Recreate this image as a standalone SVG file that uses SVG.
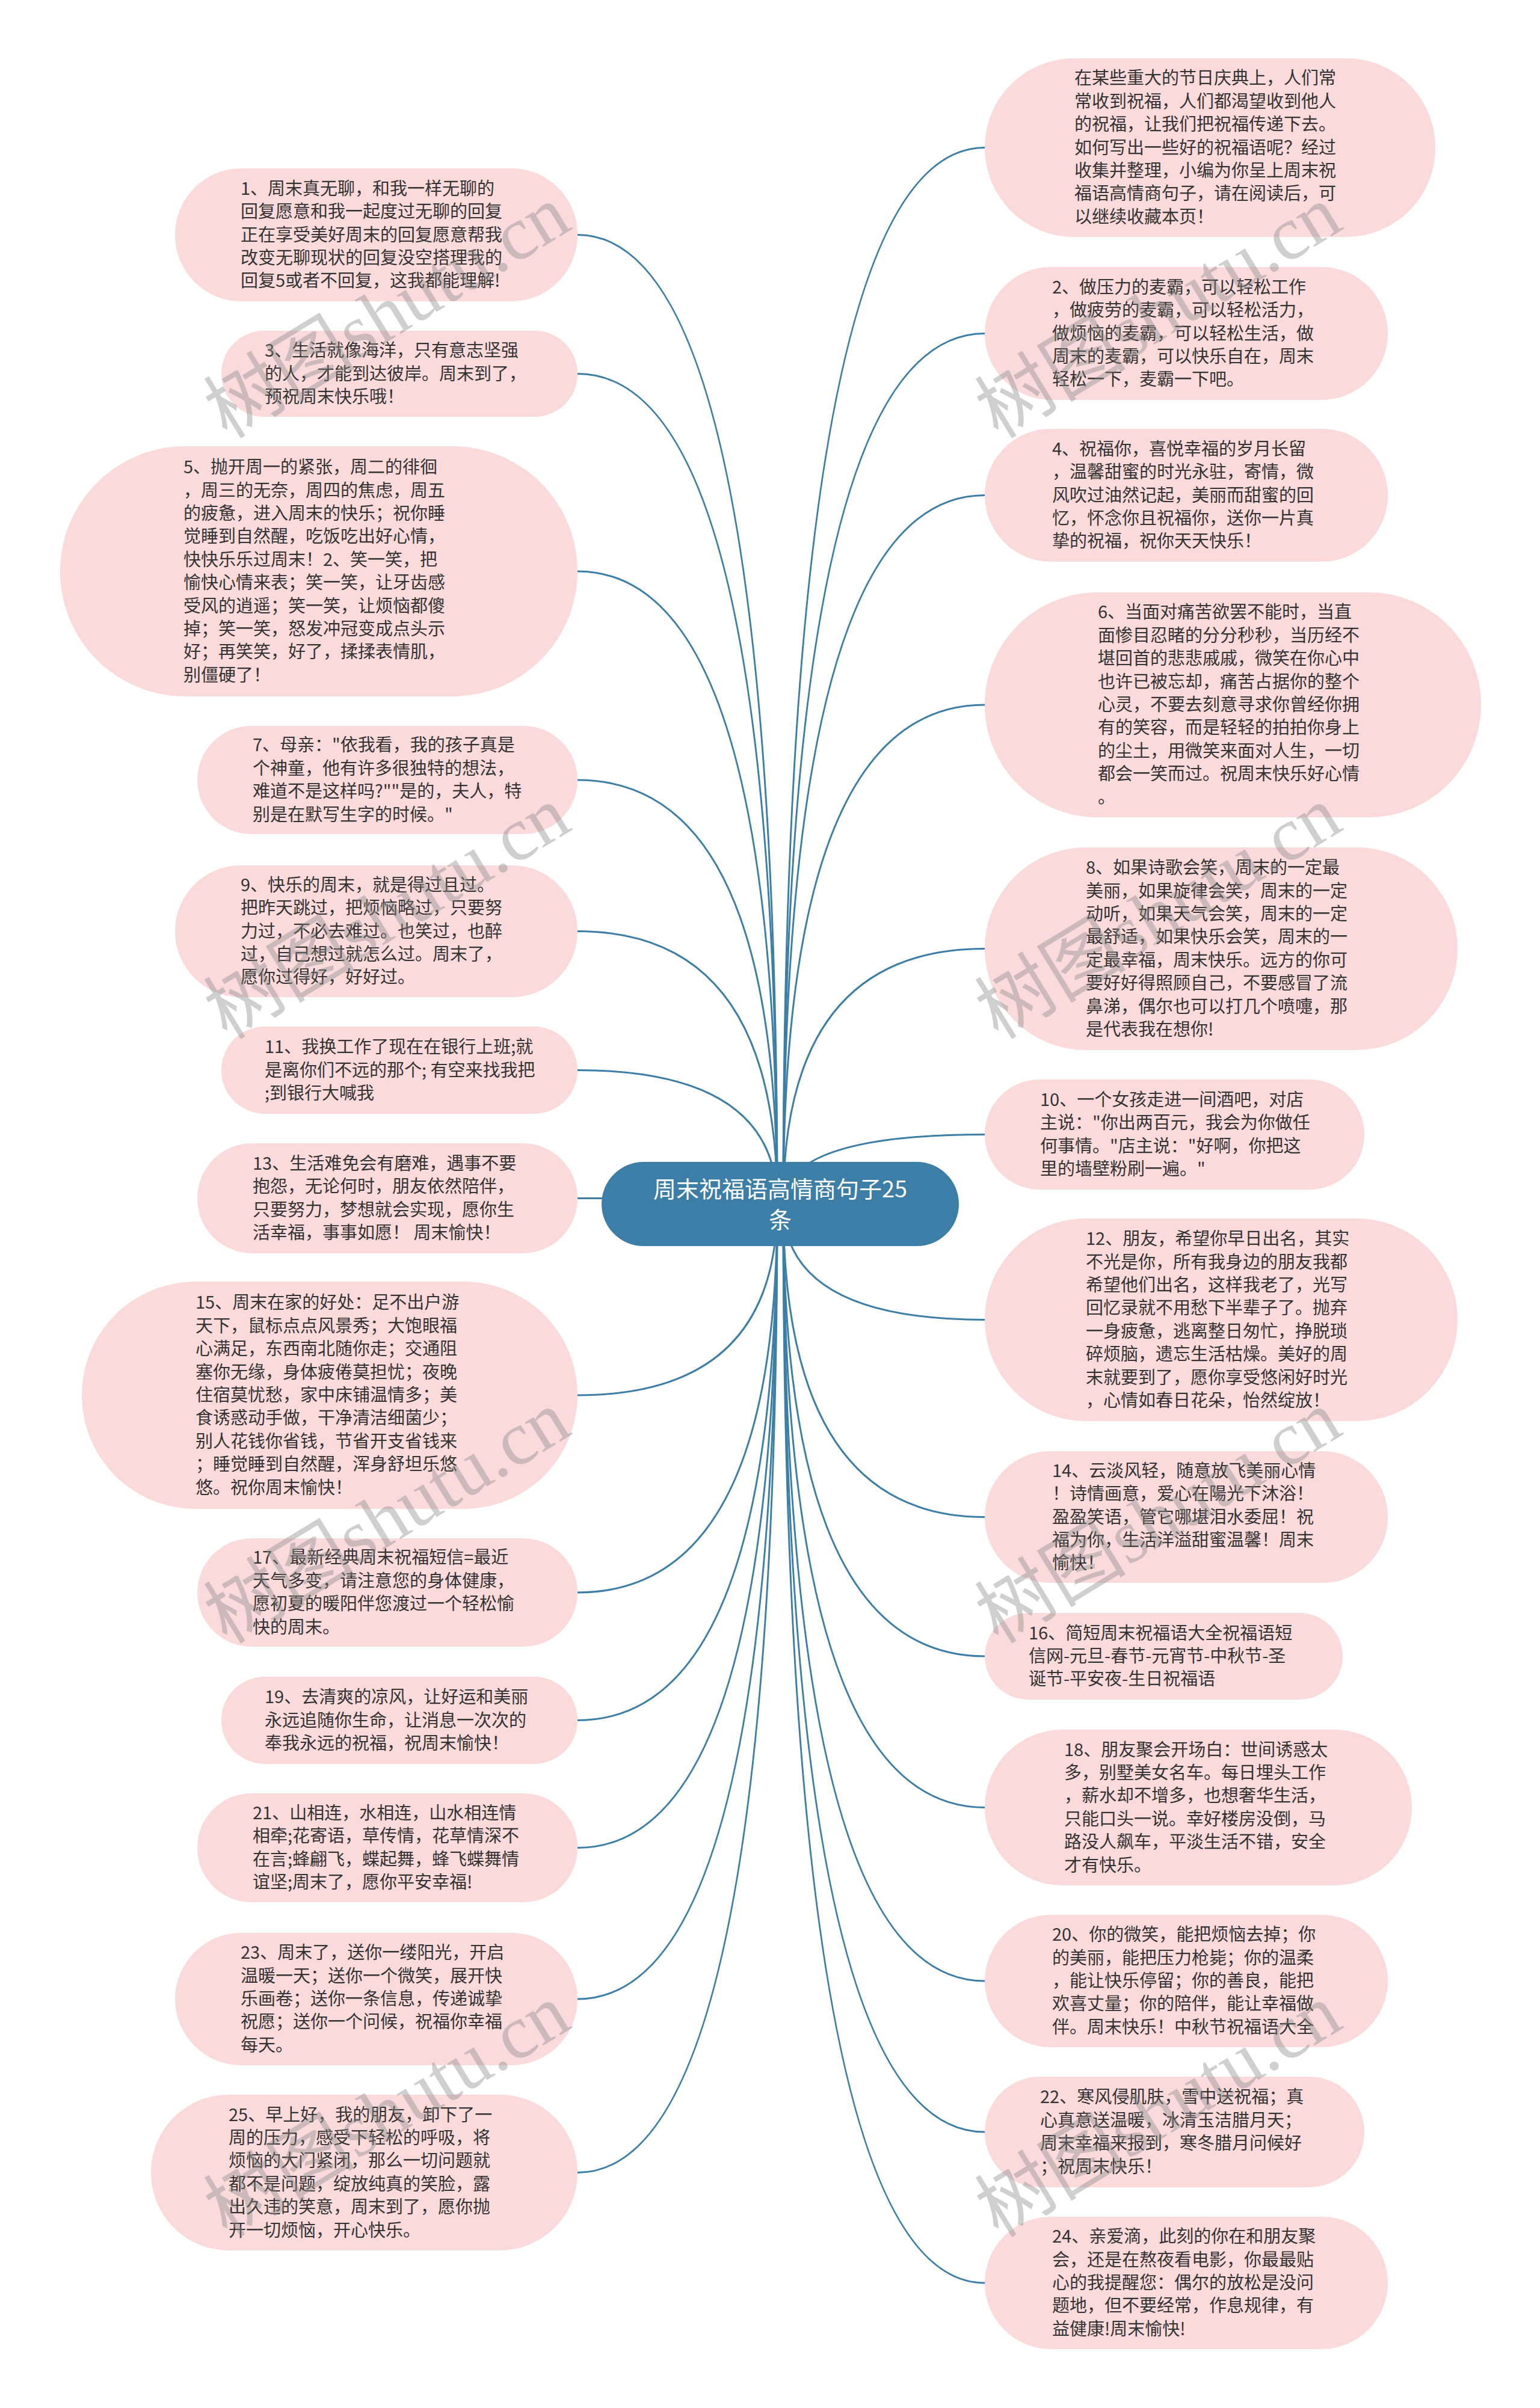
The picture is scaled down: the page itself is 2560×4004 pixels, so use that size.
<svg xmlns="http://www.w3.org/2000/svg" width="2560" height="4004" viewBox="0 0 2560 4004">
<style>
.bg{fill:#ffffff}
.node rect{fill:#fbdadb}
.node text{font-family:"Noto Sans CJK SC","Noto Sans",sans-serif;font-size:29px;fill:#333333}
.root rect{fill:#3d7ea6}
.root text{font-family:"Noto Sans CJK SC","Noto Sans",sans-serif;font-size:38px;fill:#ffffff;text-anchor:middle}
.conn path{fill:none;stroke:#3d7ea6;stroke-width:3}
.wm text{font-family:"Liberation Serif","Noto Sans CJK SC",serif;font-size:126px;fill:#888888;opacity:0.4;text-anchor:middle}
</style>
<rect class="bg" x="0" y="0" width="2560" height="4004"/>
<g id="connectors" class="conn">
<path d="M1292 2002 Q1292 390.5 960 390.5"/>
<path d="M1292 2002 Q1292 621.5 960 621.5"/>
<path d="M1292 2002 Q1292 950 960 950"/>
<path d="M1292 2002 Q1292 1297 960 1297"/>
<path d="M1292 2002 Q1292 1548.5 960 1548.5"/>
<path d="M1292 2002 Q1292 1779.5 960 1779.5"/>
<path d="M1292 2002 Q1292 1992.5 960 1992.5"/>
<path d="M1292 2002 Q1292 2320 960 2320"/>
<path d="M1292 2002 Q1292 2648 960 2648"/>
<path d="M1292 2002 Q1292 2860.5 960 2860.5"/>
<path d="M1292 2002 Q1292 3072.5 960 3072.5"/>
<path d="M1292 2002 Q1292 3324 960 3324"/>
<path d="M1292 2002 Q1292 3612.5 960 3612.5"/>
<path d="M1302 2002 Q1302 245.5 1637 245.5"/>
<path d="M1302 2002 Q1302 554.5 1637 554.5"/>
<path d="M1302 2002 Q1302 823.5 1637 823.5"/>
<path d="M1302 2002 Q1302 1172 1637 1172"/>
<path d="M1302 2002 Q1302 1577.5 1637 1577.5"/>
<path d="M1302 2002 Q1302 1886.5 1637 1886.5"/>
<path d="M1302 2002 Q1302 2194.5 1637 2194.5"/>
<path d="M1302 2002 Q1302 2522.5 1637 2522.5"/>
<path d="M1302 2002 Q1302 2754 1637 2754"/>
<path d="M1302 2002 Q1302 3005.5 1637 3005.5"/>
<path d="M1302 2002 Q1302 3294 1637 3294"/>
<path d="M1302 2002 Q1302 3545 1637 3545"/>
<path d="M1302 2002 Q1302 3796 1637 3796"/>
</g>
<g id="root" class="root">
<rect x="1000" y="1932" width="594" height="140" rx="70"/>
<text x="1297" y="1991">周末祝福语高情商句子25</text>
<text x="1297" y="2042">条</text>
</g>
<g id="n1" class="node">
<rect x="291" y="280" width="669" height="221" rx="110"/>
<text><tspan x="400" y="324">1、周末真无聊，和我一样无聊的</tspan><tspan x="400" y="362">回复愿意和我一起度过无聊的回复</tspan><tspan x="400" y="401">正在享受美好周末的回复愿意帮我</tspan><tspan x="400" y="439">改变无聊现状的回复没空搭理我的</tspan><tspan x="400" y="477">回复5或者不回复，这我都能理解!</tspan></text>
</g>
<g id="n3" class="node">
<rect x="368" y="550" width="592" height="143" rx="71"/>
<text><tspan x="440" y="593">3、生活就像海洋，只有意志坚强</tspan><tspan x="440" y="632">的人，才能到达彼岸。周末到了，</tspan><tspan x="440" y="670">预祝周末快乐哦！</tspan></text>
</g>
<g id="n5" class="node">
<rect x="100" y="742" width="860" height="416" rx="208"/>
<text><tspan x="305" y="787">5、抛开周一的紧张，周二的徘徊</tspan><tspan x="305" y="826">，周三的无奈，周四的焦虑，周五</tspan><tspan x="305" y="864">的疲惫，进入周末的快乐；祝你睡</tspan><tspan x="305" y="902">觉睡到自然醒，吃饭吃出好心情，</tspan><tspan x="305" y="941">快快乐乐过周末！2、笑一笑，把</tspan><tspan x="305" y="979">愉快心情来表；笑一笑，让牙齿感</tspan><tspan x="305" y="1018">受风的逍遥；笑一笑，让烦恼都傻</tspan><tspan x="305" y="1056">掉；笑一笑，怒发冲冠变成点头示</tspan><tspan x="305" y="1094">好；再笑笑，好了，揉揉表情肌，</tspan><tspan x="305" y="1133">别僵硬了！</tspan></text>
</g>
<g id="n7" class="node">
<rect x="328" y="1207" width="632" height="180" rx="90"/>
<text><tspan x="420" y="1249">7、母亲："依我看，我的孩子真是</tspan><tspan x="420" y="1288">个神童，他有许多很独特的想法，</tspan><tspan x="420" y="1326">难道不是这样吗?""是的，夫人，特</tspan><tspan x="420" y="1365">别是在默写生字的时候。"</tspan></text>
</g>
<g id="n9" class="node">
<rect x="291" y="1439" width="669" height="219" rx="109"/>
<text><tspan x="400" y="1482">9、快乐的周末，就是得过且过。</tspan><tspan x="400" y="1520">把昨天跳过，把烦恼略过，只要努</tspan><tspan x="400" y="1559">力过，不必去难过。也笑过，也醉</tspan><tspan x="400" y="1597">过，自己想过就怎么过。周末了，</tspan><tspan x="400" y="1635">愿你过得好，好好过。</tspan></text>
</g>
<g id="n11" class="node">
<rect x="368" y="1707" width="592" height="145" rx="72"/>
<text><tspan x="440" y="1751">11、我换工作了现在在银行上班;就</tspan><tspan x="440" y="1790">是离你们不远的那个; 有空来找我把</tspan><tspan x="440" y="1828">;到银行大喊我</tspan></text>
</g>
<g id="n13" class="node">
<rect x="328" y="1901" width="632" height="183" rx="91"/>
<text><tspan x="420" y="1945">13、生活难免会有磨难，遇事不要</tspan><tspan x="420" y="1983">抱怨，无论何时，朋友依然陪伴，</tspan><tspan x="420" y="2022">只要努力，梦想就会实现，愿你生</tspan><tspan x="420" y="2060">活幸福，事事如愿！  周末愉快！</tspan></text>
</g>
<g id="n15" class="node">
<rect x="136" y="2131" width="824" height="378" rx="189"/>
<text><tspan x="325" y="2176">15、周末在家的好处：足不出户游</tspan><tspan x="325" y="2215">天下，鼠标点点风景秀；大饱眼福</tspan><tspan x="325" y="2253">心满足，东西南北随你走；交通阻</tspan><tspan x="325" y="2292">塞你无缘，身体疲倦莫担忧；夜晚</tspan><tspan x="325" y="2330">住宿莫忧愁，家中床铺温情多；美</tspan><tspan x="325" y="2368">食诱惑动手做，干净清洁细菌少；</tspan><tspan x="325" y="2407">别人花钱你省钱，节省开支省钱来</tspan><tspan x="325" y="2445">；睡觉睡到自然醒，浑身舒坦乐悠</tspan><tspan x="325" y="2484">悠。祝你周末愉快！</tspan></text>
</g>
<g id="n17" class="node">
<rect x="328" y="2558" width="632" height="180" rx="90"/>
<text><tspan x="420" y="2600">17、最新经典周末祝福短信=最近</tspan><tspan x="420" y="2639">天气多变，请注意您的身体健康，</tspan><tspan x="420" y="2677">愿初夏的暖阳伴您渡过一个轻松愉</tspan><tspan x="420" y="2716">快的周末。</tspan></text>
</g>
<g id="n19" class="node">
<rect x="368" y="2788" width="592" height="145" rx="72"/>
<text><tspan x="440" y="2832">19、去清爽的凉风，让好运和美丽</tspan><tspan x="440" y="2871">永远追随你生命，让消息一次次的</tspan><tspan x="440" y="2909">奉我永远的祝福，祝周末愉快！</tspan></text>
</g>
<g id="n21" class="node">
<rect x="328" y="2982" width="632" height="181" rx="90"/>
<text><tspan x="420" y="3025">21、山相连，水相连，山水相连情</tspan><tspan x="420" y="3063">相牵;花寄语，草传情，花草情深不</tspan><tspan x="420" y="3102">在言;蜂翩飞，蝶起舞，蜂飞蝶舞情</tspan><tspan x="420" y="3140">谊坚;周末了，愿你平安幸福!</tspan></text>
</g>
<g id="n23" class="node">
<rect x="291" y="3214" width="669" height="220" rx="110"/>
<text><tspan x="400" y="3257">23、周末了，送你一缕阳光，开启</tspan><tspan x="400" y="3296">温暖一天；送你一个微笑，展开快</tspan><tspan x="400" y="3334">乐画卷；送你一条信息，传递诚挚</tspan><tspan x="400" y="3372">祝愿；送你一个问候，祝福你幸福</tspan><tspan x="400" y="3411">每天。</tspan></text>
</g>
<g id="n25" class="node">
<rect x="251" y="3483" width="709" height="259" rx="129"/>
<text><tspan x="380" y="3527">25、早上好，我的朋友，卸下了一</tspan><tspan x="380" y="3565">周的压力，感受下轻松的呼吸，将</tspan><tspan x="380" y="3603">烦恼的大门紧闭，那么一切问题就</tspan><tspan x="380" y="3642">都不是问题，绽放纯真的笑脸，露</tspan><tspan x="380" y="3680">出久违的笑意，周末到了，愿你抛</tspan><tspan x="380" y="3719">开一切烦恼，开心快乐。</tspan></text>
</g>
<g id="intro" class="node">
<rect x="1637" y="97" width="749" height="297" rx="148"/>
<text><tspan x="1786" y="140">在某些重大的节日庆典上，人们常</tspan><tspan x="1786" y="179">常收到祝福，人们都渴望收到他人</tspan><tspan x="1786" y="217">的祝福，让我们把祝福传递下去。</tspan><tspan x="1786" y="256">如何写出一些好的祝福语呢？经过</tspan><tspan x="1786" y="294">收集并整理，小编为你呈上周末祝</tspan><tspan x="1786" y="332">福语高情商句子，请在阅读后，可</tspan><tspan x="1786" y="371">以继续收藏本页！</tspan></text>
</g>
<g id="n2" class="node">
<rect x="1637" y="444" width="670" height="221" rx="110"/>
<text><tspan x="1749" y="488">2、做压力的麦霸，可以轻松工作</tspan><tspan x="1749" y="526">，做疲劳的麦霸，可以轻松活力，</tspan><tspan x="1749" y="565">做烦恼的麦霸，可以轻松生活，做</tspan><tspan x="1749" y="603">周末的麦霸，可以快乐自在，周末</tspan><tspan x="1749" y="641">轻松一下，麦霸一下吧。</tspan></text>
</g>
<g id="n4" class="node">
<rect x="1637" y="713" width="670" height="221" rx="110"/>
<text><tspan x="1749" y="757">4、祝福你，喜悦幸福的岁月长留</tspan><tspan x="1749" y="795">，温馨甜蜜的时光永驻，寄情，微</tspan><tspan x="1749" y="834">风吹过油然记起，美丽而甜蜜的回</tspan><tspan x="1749" y="872">忆，怀念你且祝福你，送你一片真</tspan><tspan x="1749" y="910">挚的祝福，祝你天天快乐！</tspan></text>
</g>
<g id="n6" class="node">
<rect x="1637" y="985" width="825" height="374" rx="187"/>
<text><tspan x="1825" y="1028">6、当面对痛苦欲罢不能时，当直</tspan><tspan x="1825" y="1067">面惨目忍睹的分分秒秒，当历经不</tspan><tspan x="1825" y="1105">堪回首的悲悲戚戚，微笑在你心中</tspan><tspan x="1825" y="1144">也许已被忘却，痛苦占据你的整个</tspan><tspan x="1825" y="1182">心灵，不要去刻意寻求你曾经你拥</tspan><tspan x="1825" y="1220">有的笑容，而是轻轻的拍拍你身上</tspan><tspan x="1825" y="1259">的尘土，用微笑来面对人生，一切</tspan><tspan x="1825" y="1297">都会一笑而过。祝周末快乐好心情</tspan><tspan x="1825" y="1336">。</tspan></text>
</g>
<g id="n8" class="node">
<rect x="1637" y="1409" width="786" height="337" rx="168"/>
<text><tspan x="1805" y="1453">8、如果诗歌会笑，周末的一定最</tspan><tspan x="1805" y="1492">美丽，如果旋律会笑，周末的一定</tspan><tspan x="1805" y="1530">动听，如果天气会笑，周末的一定</tspan><tspan x="1805" y="1568">最舒适，如果快乐会笑，周末的一</tspan><tspan x="1805" y="1607">定最幸福，周末快乐。远方的你可</tspan><tspan x="1805" y="1645">要好好得照顾自己，不要感冒了流</tspan><tspan x="1805" y="1684">鼻涕，偶尔也可以打几个喷嚏，那</tspan><tspan x="1805" y="1722">是代表我在想你!</tspan></text>
</g>
<g id="n10" class="node">
<rect x="1637" y="1795" width="631" height="183" rx="91"/>
<text><tspan x="1729" y="1839">10、一个女孩走进一间酒吧，对店</tspan><tspan x="1729" y="1877">主说："你出两百元，我会为你做任</tspan><tspan x="1729" y="1916">何事情。"店主说："好啊，你把这</tspan><tspan x="1729" y="1954">里的墙壁粉刷一遍。"</tspan></text>
</g>
<g id="n12" class="node">
<rect x="1637" y="2026" width="786" height="337" rx="168"/>
<text><tspan x="1805" y="2070">12、朋友，希望你早日出名，其实</tspan><tspan x="1805" y="2109">不光是你，所有我身边的朋友我都</tspan><tspan x="1805" y="2147">希望他们出名，这样我老了，光写</tspan><tspan x="1805" y="2185">回忆录就不用愁下半辈子了。抛弃</tspan><tspan x="1805" y="2224">一身疲惫，逃离整日匆忙，挣脱琐</tspan><tspan x="1805" y="2262">碎烦脑，遗忘生活枯燥。美好的周</tspan><tspan x="1805" y="2301">末就要到了，愿你享受悠闲好时光</tspan><tspan x="1805" y="2339">，心情如春日花朵，怡然绽放！</tspan></text>
</g>
<g id="n14" class="node">
<rect x="1637" y="2413" width="670" height="219" rx="109"/>
<text><tspan x="1749" y="2456">14、云淡风轻，随意放飞美丽心情</tspan><tspan x="1749" y="2494">！诗情画意，爱心在陽光下沐浴！</tspan><tspan x="1749" y="2533">盈盈笑语，管它哪堪泪水委屈！祝</tspan><tspan x="1749" y="2571">福为你，生活洋溢甜蜜温馨！周末</tspan><tspan x="1749" y="2609">愉快！</tspan></text>
</g>
<g id="n16" class="node">
<rect x="1637" y="2682" width="595" height="144" rx="72"/>
<text><tspan x="1710" y="2726">16、简短周末祝福语大全祝福语短</tspan><tspan x="1710" y="2764">信网-元旦-春节-元宵节-中秋节-圣</tspan><tspan x="1710" y="2802">诞节-平安夜-生日祝福语</tspan></text>
</g>
<g id="n18" class="node">
<rect x="1637" y="2876" width="710" height="259" rx="129"/>
<text><tspan x="1769" y="2920">18、朋友聚会开场白：世间诱惑太</tspan><tspan x="1769" y="2958">多，别墅美女名车。每日埋头工作</tspan><tspan x="1769" y="2996">，薪水却不增多，也想奢华生活，</tspan><tspan x="1769" y="3035">只能口头一说。幸好楼房没倒，马</tspan><tspan x="1769" y="3073">路没人飙车，平淡生活不错，安全</tspan><tspan x="1769" y="3112">才有快乐。</tspan></text>
</g>
<g id="n20" class="node">
<rect x="1637" y="3184" width="670" height="220" rx="110"/>
<text><tspan x="1749" y="3227">20、你的微笑，能把烦恼去掉；你</tspan><tspan x="1749" y="3266">的美丽，能把压力枪毙；你的温柔</tspan><tspan x="1749" y="3304">，能让快乐停留；你的善良，能把</tspan><tspan x="1749" y="3342">欢喜丈量；你的陪伴，能让幸福做</tspan><tspan x="1749" y="3381">伴。周末快乐！中秋节祝福语大全</tspan></text>
</g>
<g id="n22" class="node">
<rect x="1637" y="3453" width="631" height="184" rx="92"/>
<text><tspan x="1729" y="3497">22、寒风侵肌肤，雪中送祝福；真</tspan><tspan x="1729" y="3536">心真意送温暖，冰清玉洁腊月天；</tspan><tspan x="1729" y="3574">周末幸福来报到，寒冬腊月问候好</tspan><tspan x="1729" y="3613">；祝周末快乐！</tspan></text>
</g>
<g id="n24" class="node">
<rect x="1637" y="3686" width="670" height="220" rx="110"/>
<text><tspan x="1749" y="3729">24、亲爱滴，此刻的你在和朋友聚</tspan><tspan x="1749" y="3768">会，还是在熬夜看电影，你最最贴</tspan><tspan x="1749" y="3806">心的我提醒您：偶尔的放松是没问</tspan><tspan x="1749" y="3844">题地，但不要经常，作息规律，有</tspan><tspan x="1749" y="3883">益健康!周末愉快!</tspan></text>
</g>
<g id="watermark" class="wm">
<text transform="translate(645 521) rotate(-31.4)" y="40">树图shutu.cn</text>
<text transform="translate(1927 521) rotate(-31.4)" y="40">树图shutu.cn</text>
<text transform="translate(645 1520) rotate(-31.4)" y="40">树图shutu.cn</text>
<text transform="translate(1927 1520) rotate(-31.4)" y="40">树图shutu.cn</text>
<text transform="translate(645 2525) rotate(-31.4)" y="40">树图shutu.cn</text>
<text transform="translate(1927 2525) rotate(-31.4)" y="40">树图shutu.cn</text>
<text transform="translate(645 3512) rotate(-31.4)" y="40">树图shutu.cn</text>
<text transform="translate(1927 3512) rotate(-31.4)" y="40">树图shutu.cn</text>
</g>
</svg>
